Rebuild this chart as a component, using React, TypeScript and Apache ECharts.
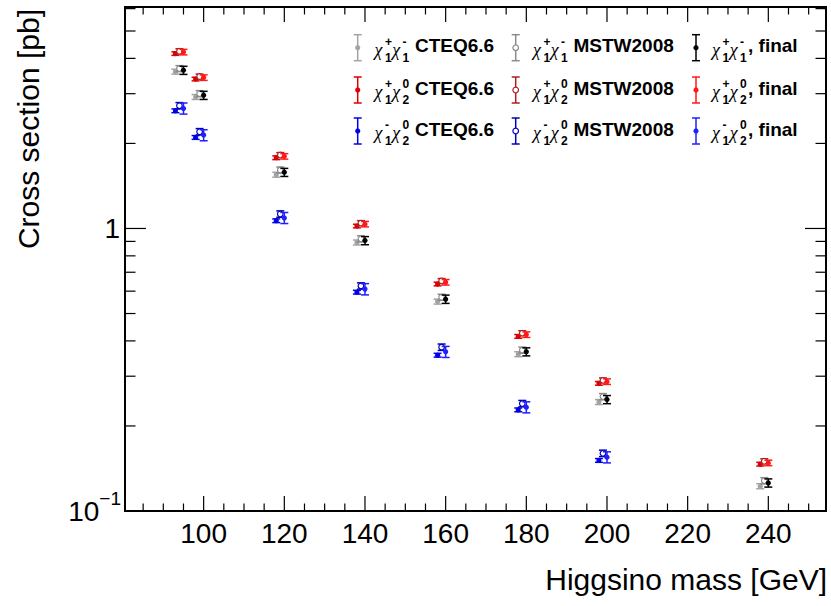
import { useEffect, useRef } from "react";
import * as echarts from "echarts";

// ---------- data ----------
const masses = [95, 100, 120, 140, 160, 180, 200, 240];
const massesBlue = [95, 100, 120, 140, 160, 180, 200];

// chi1+ chi1-
const c1pc1mCteq = [3.59, 2.92, 1.55, 0.892, 0.551, 0.359, 0.243, 0.1224];
const c1pc1mCteqErr = [0.07, 0.058, 0.031, 0.018, 0.011, 0.0072, 0.0049, 0.0025];
const c1pc1mMstw = [3.68, 3.0, 1.61, 0.919, 0.571, 0.371, 0.254, 0.128];
const c1pc1mMstwErr = [0.09, 0.075, 0.04, 0.023, 0.014, 0.0093, 0.0064, 0.0032];
const c1pc1mFinal = [3.63, 2.96, 1.58, 0.906, 0.562, 0.366, 0.248, 0.1257];
const c1pc1mFinalErr = [0.12, 0.098, 0.052, 0.03, 0.019, 0.012, 0.0082, 0.0042];

// chi1+ chi2^0
const c1pn2Cteq = [4.16, 3.38, 1.78, 1.02, 0.636, 0.415, 0.283, 0.1465];
const c1pn2CteqErr = [0.06, 0.05, 0.027, 0.015, 0.0095, 0.0062, 0.0042, 0.0022];
const c1pn2Mstw = [4.24, 3.45, 1.82, 1.045, 0.652, 0.426, 0.29, 0.15];
const c1pn2MstwErr = [0.085, 0.069, 0.036, 0.021, 0.013, 0.0085, 0.0058, 0.003];
const c1pn2Final = [4.21, 3.42, 1.8, 1.036, 0.645, 0.421, 0.287, 0.148];
const c1pn2FinalErr = [0.095, 0.077, 0.04, 0.023, 0.0145, 0.0095, 0.0065, 0.0033];

// chi1- chi2^0
const c1mn2Cteq = [2.61, 2.1, 1.065, 0.595, 0.356, 0.228, 0.151];
const c1mn2CteqErr = [0.04, 0.032, 0.016, 0.009, 0.0055, 0.0035, 0.0023];
const c1mn2Mstw = [2.72, 2.2, 1.125, 0.626, 0.38, 0.24, 0.16];
const c1mn2MstwErr = [0.07, 0.057, 0.029, 0.016, 0.0099, 0.0062, 0.0042];
const c1mn2Final = [2.66, 2.14, 1.09, 0.61, 0.366, 0.233, 0.155];
const c1mn2FinalErr = [0.12, 0.096, 0.049, 0.028, 0.0165, 0.0105, 0.007];

// axis ticks / labels
const xMajorTicks = [100, 120, 140, 160, 180, 200, 220, 240];
const xMinorTicks = [85, 90, 95, 105, 110, 115, 125, 130, 135, 145, 150, 155, 165, 170, 175, 185, 190, 195, 205, 210, 215, 225, 230, 235, 245, 250];
const yMajorTicks = [0.1, 1];
const yMinorTicks = [0.2, 0.3, 0.4, 0.5, 0.6, 0.7, 0.8, 0.9, 2, 3, 4, 5, 6];

const X_MIN = 80.5;
const X_MAX = 254.3;
const Y_MIN = 0.1;
const Y_MAX = 6.08;

const xTitle = "Higgsino mass [GeV]";
const yTitle = "Cross section [pb]";

const FONT = '"Liberation Sans", Arial, Helvetica, sans-serif';

type S = {
  name: string;
  x: number[];
  y: number[];
  err: number[];
  color: string;
  open: boolean;
  shift: number;
  row: number;
  col: number;
  sup: string[];
  sub: string[];
  label: string;
};

const GRAY_SUP = ["+", "-"], GRAY_SUB = ["1", "1"];
const RED_SUP = ["+", "0"], RED_SUB = ["1", "2"];
const BLUE_SUP = ["-", "0"], BLUE_SUB = ["1", "2"];

const seriesList: S[] = [
  { name: "χ1+χ1- CTEQ6.6", x: masses, y: c1pc1mCteq, err: c1pc1mCteqErr, color: "#a3a3a3", open: false, shift: -2, row: 0, col: 0, sup: GRAY_SUP, sub: GRAY_SUB, label: "CTEQ6.6" },
  { name: "χ1+χ1- MSTW2008", x: masses, y: c1pc1mMstw, err: c1pc1mMstwErr, color: "#8a8a8a", open: true, shift: -1, row: 0, col: 1, sup: GRAY_SUP, sub: GRAY_SUB, label: "MSTW2008" },
  { name: "χ1+χ1-, final", x: masses, y: c1pc1mFinal, err: c1pc1mFinalErr, color: "#000000", open: false, shift: 0, row: 0, col: 2, sup: GRAY_SUP, sub: GRAY_SUB, label: ", final" },
  { name: "χ1+χ20 CTEQ6.6", x: masses, y: c1pn2Cteq, err: c1pn2CteqErr, color: "#dd0000", open: false, shift: -2, row: 1, col: 0, sup: RED_SUP, sub: RED_SUB, label: "CTEQ6.6" },
  { name: "χ1+χ20 MSTW2008", x: masses, y: c1pn2Mstw, err: c1pn2MstwErr, color: "#b01e1e", open: true, shift: -1, row: 1, col: 1, sup: RED_SUP, sub: RED_SUB, label: "MSTW2008" },
  { name: "χ1+χ20, final", x: masses, y: c1pn2Final, err: c1pn2FinalErr, color: "#ff1a1a", open: false, shift: 0, row: 1, col: 2, sup: RED_SUP, sub: RED_SUB, label: ", final" },
  { name: "χ1-χ20 CTEQ6.6", x: massesBlue, y: c1mn2Cteq, err: c1mn2CteqErr, color: "#0000e6", open: false, shift: -2, row: 2, col: 0, sup: BLUE_SUP, sub: BLUE_SUB, label: "CTEQ6.6" },
  { name: "χ1-χ20 MSTW2008", x: massesBlue, y: c1mn2Mstw, err: c1mn2MstwErr, color: "#0000b8", open: true, shift: -1, row: 2, col: 1, sup: BLUE_SUP, sub: BLUE_SUB, label: "MSTW2008" },
  { name: "χ1-χ20, final", x: massesBlue, y: c1mn2Final, err: c1mn2FinalErr, color: "#1f1fff", open: false, shift: 0, row: 2, col: 2, sup: BLUE_SUP, sub: BLUE_SUB, label: ", final" },
];

const legendRowsY = [47.7, 90, 131];
const legendMarkerX = [357.7, 515.7, 696];
const legendTextX = [374.5, 533, 712];

function makeDataSeries(s: S) {
  return {
    type: "custom",
    name: s.name,
    coordinateSystem: "cartesian2d",
    clip: false,
    z: 3,
    encode: { x: 0, y: 1 },
    data: s.x.map((m, i) => [m + s.shift, s.y[i], s.err[i]]),
    renderItem: (_params: any, api: any) => {
      const x = api.value(0);
      const y = api.value(1);
      const e = api.value(2);
      const c = api.coord([x, y]);
      const lo = api.coord([x, y - e])[1];
      const hi = api.coord([x, y + e])[1];
      const w = 4;
      const ls = { stroke: s.color, lineWidth: 1.5 };
      return {
        type: "group",
        children: [
          { type: "line", shape: { x1: c[0], y1: lo, x2: c[0], y2: hi }, style: ls },
          { type: "line", shape: { x1: c[0] - w, y1: lo, x2: c[0] + w, y2: lo }, style: ls },
          { type: "line", shape: { x1: c[0] - w, y1: hi, x2: c[0] + w, y2: hi }, style: ls },
          {
            type: "circle",
            shape: { cx: c[0], cy: c[1], r: s.open ? 2.8 : 2.6 },
            style: { fill: s.open ? "#ffffff" : s.color, stroke: s.color, lineWidth: s.open ? 1.2 : 0 },
          },
        ],
      };
    },
  };
}

function makeFrameSeries() {
  return {
    type: "custom",
    name: "frame",
    coordinateSystem: "cartesian2d",
    clip: false,
    silent: true,
    z: 5,
    data: [[100, 1]],
    renderItem: (params: any, api: any) => {
      const cs = params.coordSys;
      const L = cs.x, T = cs.y, R = cs.x + cs.width, B = cs.y + cs.height;
      const st = { stroke: "#000", lineWidth: 1.2 };
      const ch: any[] = [];
      const ln = (x1: number, y1: number, x2: number, y2: number) => ({ type: "line", shape: { x1, y1, x2, y2 }, style: st });
      xMajorTicks.forEach((v) => {
        const px = api.coord([v, 1])[0];
        ch.push(ln(px, B, px, B - 15), ln(px, T, px, T + 15));
        ch.push({
          type: "text",
          x: px,
          y: B + 22,
          style: { text: String(v), fontSize: 28, fontFamily: FONT, fill: "#000", align: "center", verticalAlign: "middle" },
        });
      });
      xMinorTicks.forEach((v) => {
        const px = api.coord([v, 1])[0];
        ch.push(ln(px, B, px, B - 7.5), ln(px, T, px, T + 7.5));
      });
      yMajorTicks.forEach((v) => {
        const py = api.coord([100, v])[1];
        ch.push(ln(L, py, L + 21, py), ln(R, py, R - 21, py));
      });
      yMinorTicks.forEach((v) => {
        const py = api.coord([100, v])[1];
        ch.push(ln(L, py, L + 10.5, py), ln(R, py, R - 10.5, py));
      });
      const p1 = api.coord([100, 1])[1];
      const p01 = api.coord([100, 0.1])[1];
      ch.push({
        type: "text",
        x: L - 5,
        y: p1,
        style: { text: "1", fontSize: 28, fontFamily: FONT, fill: "#000", align: "right", verticalAlign: "middle" },
      });
      ch.push({
        type: "text",
        x: L - 4,
        y: p01 - 4,
        style: {
          text: "{a|10}{b|−1}",
          fontFamily: FONT,
          fill: "#000",
          align: "right",
          verticalAlign: "middle",
          rich: {
            a: { fontSize: 28, fontFamily: FONT, fill: "#000", verticalAlign: "bottom", padding: [8, 0, 0, 0] },
            b: { fontSize: 19, fontFamily: FONT, fill: "#000", verticalAlign: "top" },
          },
        },
      });
      return { type: "group", children: ch };
    },
  };
}

function legendGraphics() {
  const els: any[] = [];
  seriesList.forEach((s) => {
    const ry = legendRowsY[s.row];
    const mx = legendMarkerX[s.col];
    const tx = legendTextX[s.col];
    const ls = { stroke: s.color, lineWidth: 1.5 };
    els.push({ type: "line", shape: { x1: mx, y1: ry - 13, x2: mx, y2: ry + 13 }, style: ls });
    els.push({ type: "line", shape: { x1: mx - 4, y1: ry - 13, x2: mx + 4, y2: ry - 13 }, style: ls });
    els.push({ type: "line", shape: { x1: mx - 4, y1: ry + 13, x2: mx + 4, y2: ry + 13 }, style: ls });
    els.push({
      type: "circle",
      shape: { cx: mx, cy: ry, r: s.open ? 2.8 : 2.6 },
      style: { fill: s.open ? "#fff" : s.color, stroke: s.color, lineWidth: s.open ? 1.2 : 0 },
    });
    const chi = (x: number) => ({
      type: "text",
      x,
      y: ry + 2,
      style: { text: "χ", fontSize: 18, fontFamily: '"Liberation Serif", "DejaVu Serif", serif', fontStyle: "italic", fill: "#000", align: "left", verticalAlign: "middle" },
    });
    const small = (x: number, y: number, t: string) => ({
      type: "text",
      x,
      y,
      style: { text: t, fontSize: 12, fontWeight: "bold", fontFamily: FONT, fill: "#000", align: "left", verticalAlign: "middle" },
    });
    els.push(chi(tx));
    els.push(small(tx + 10.5, ry - 6, s.sup[0]));
    els.push(small(tx + 10.5, ry + 10, s.sub[0]));
    els.push(chi(tx + 17.8));
    els.push(small(tx + 28, ry - 6, s.sup[1]));
    els.push(small(tx + 28, ry + 10, s.sub[1]));
    const isFinal = s.label.startsWith(",");
    els.push({
      type: "text",
      x: isFinal ? tx + 36 : tx + 40.5,
      y: ry - 2,
      style: { text: s.label, fontSize: 19, fontWeight: "bold", fontFamily: FONT, fill: "#000", align: "left", verticalAlign: "middle" },
    });
  });
  return els;
}

export default function App() {
  const ref = useRef<HTMLDivElement>(null);
  useEffect(() => {
    if (!ref.current) return;
    const chart = echarts.init(ref.current, undefined, { renderer: "svg" });
    const option: any = {
      animation: false,
      backgroundColor: "#ffffff",
      grid: { left: 125, right: 5, top: 7, bottom: 95, show: true, borderColor: "#000", borderWidth: 2, backgroundColor: "transparent" },
      xAxis: {
        type: "value",
        min: X_MIN,
        max: X_MAX,
        axisLine: { show: false },
        axisTick: { show: false },
        axisLabel: { show: false },
        splitLine: { show: false },
      },
      yAxis: {
        type: "log",
        logBase: 10,
        min: Y_MIN,
        max: Y_MAX,
        axisLine: { show: false },
        axisTick: { show: false },
        axisLabel: { show: false },
        splitLine: { show: false },
      },
      series: [...seriesList.map(makeDataSeries), makeFrameSeries()],
      graphic: [
        ...legendGraphics(),
        {
          type: "text",
          x: 827,
          y: 579,
          style: { text: xTitle, fontSize: 30, fontFamily: FONT, fill: "#000", align: "right", verticalAlign: "middle" },
        },
        {
          type: "text",
          x: 28,
          y: 9,
          rotation: Math.PI / 2,
          style: { text: yTitle, fontSize: 30, fontFamily: FONT, fill: "#000", align: "right", verticalAlign: "middle" },
        },
      ],
    };
    chart.setOption(option);
    return () => chart.dispose();
  }, []);
  return (
    <div
      ref={ref}
      style={{ position: "fixed", left: 0, top: 0, width: 831, height: 606, background: "#fff" }}
    />
  );
}
